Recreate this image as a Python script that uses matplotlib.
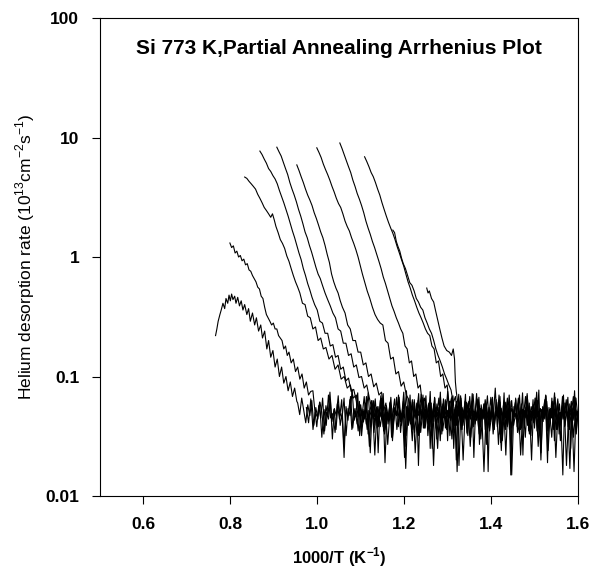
"""
Si 773 K partial annealing Arrhenius plot (helium desorption rate vs 1000/T).
"""

import numpy as np
import matplotlib
matplotlib.use('Agg')
import matplotlib.pyplot as plt

plt.rcParams.update({
    'font.family':       'Liberation Sans',
    'mathtext.fontset':  'custom',
    'mathtext.rm':       'Liberation Sans',
    'mathtext.bf':       'Liberation Sans:bold',
})

# descending parts as (1000/T, rate)
curve_a = [(0.766, 0.22), (0.769, 0.25), (0.772, 0.29), (0.776, 0.33), (0.779, 0.36),
           (0.783, 0.41), (0.787, 0.37), (0.790, 0.45), (0.794, 0.41), (0.797, 0.48),
           (0.800, 0.43), (0.803, 0.49), (0.806, 0.44), (0.810, 0.47), (0.813, 0.41),
           (0.817, 0.46), (0.821, 0.39), (0.825, 0.43), (0.829, 0.36), (0.833, 0.40),
           (0.838, 0.33), (0.842, 0.37), (0.846, 0.29), (0.851, 0.34), (0.856, 0.27),
           (0.860, 0.31), (0.865, 0.24), (0.870, 0.27), (0.874, 0.21), (0.879, 0.24),
           (0.884, 0.17), (0.888, 0.20), (0.893, 0.145), (0.898, 0.165), (0.903, 0.12),
           (0.908, 0.14), (0.913, 0.10), (0.918, 0.12), (0.923, 0.088), (0.928, 0.10),
           (0.933, 0.076), (0.938, 0.09), (0.943, 0.068), (0.948, 0.08), (0.953, 0.062)]

curve_b = [(0.799, 1.31), (0.803, 1.20), (0.807, 1.24), (0.811, 1.08), (0.815, 1.12),
           (0.819, 1.00), (0.823, 1.03), (0.827, 0.93), (0.831, 0.96), (0.835, 0.86),
           (0.839, 0.88), (0.843, 0.78), (0.847, 0.76), (0.851, 0.70), (0.855, 0.66),
           (0.859, 0.62), (0.863, 0.56), (0.867, 0.54), (0.871, 0.47), (0.875, 0.45),
           (0.879, 0.38), (0.883, 0.33), (0.887, 0.31), (0.891, 0.29), (0.895, 0.27),
           (0.899, 0.28), (0.903, 0.25), (0.907, 0.25), (0.911, 0.22), (0.915, 0.21),
           (0.919, 0.20), (0.923, 0.17), (0.927, 0.18), (0.931, 0.15), (0.935, 0.16),
           (0.940, 0.13), (0.945, 0.14), (0.950, 0.11), (0.955, 0.12), (0.960, 0.095),
           (0.965, 0.105), (0.970, 0.08), (0.975, 0.09), (0.980, 0.07), (0.985, 0.075)]

curve_c = [(0.833, 4.67), (0.838, 4.55), (0.843, 4.30), (0.848, 4.10), (0.853, 3.90),
           (0.858, 3.70), (0.863, 3.35), (0.868, 3.10), (0.873, 2.85), (0.878, 2.60),
           (0.883, 2.45), (0.888, 2.30), (0.893, 2.15), (0.897, 2.30), (0.901, 2.05),
           (0.905, 1.80), (0.910, 1.60), (0.915, 1.40), (0.920, 1.30), (0.925, 1.18),
           (0.930, 1.02), (0.935, 0.92), (0.940, 0.80), (0.945, 0.70), (0.950, 0.62),
           (0.955, 0.56), (0.960, 0.50), (0.966, 0.41), (0.972, 0.40), (0.978, 0.32),
           (0.984, 0.31), (0.990, 0.25), (0.996, 0.26), (1.002, 0.20), (1.008, 0.21),
           (1.014, 0.17), (1.020, 0.175), (1.027, 0.14), (1.034, 0.15), (1.041, 0.115),
           (1.048, 0.125), (1.055, 0.095), (1.062, 0.10), (1.069, 0.08), (1.076, 0.085),
           (1.083, 0.066), (1.090, 0.07), (1.095, 0.05), (1.100, 0.058), (1.105, 0.041),
           (1.110, 0.052), (1.115, 0.036), (1.120, 0.047)]

curve_d = [(0.868, 7.7), (0.873, 7.2), (0.878, 6.6), (0.883, 6.1), (0.888, 5.5),
           (0.893, 5.2), (0.898, 4.8), (0.903, 4.5), (0.908, 4.1), (0.913, 3.6),
           (0.918, 3.2), (0.923, 2.85), (0.928, 2.5), (0.933, 2.2), (0.938, 1.9),
           (0.943, 1.65), (0.948, 1.45), (0.953, 1.25), (0.958, 1.08), (0.963, 0.95),
           (0.968, 0.80), (0.973, 0.70), (0.978, 0.60), (0.983, 0.53), (0.988, 0.46),
           (0.994, 0.40), (1.000, 0.36), (1.006, 0.29), (1.012, 0.28), (1.018, 0.23),
           (1.024, 0.23), (1.030, 0.18), (1.036, 0.185), (1.042, 0.145), (1.048, 0.15),
           (1.054, 0.115), (1.060, 0.12), (1.066, 0.092), (1.072, 0.097), (1.078, 0.075),
           (1.084, 0.078)]

curve_e = [(0.907, 8.3), (0.912, 7.6), (0.917, 7.0), (0.922, 6.2), (0.927, 5.5),
           (0.932, 4.9), (0.937, 4.2), (0.942, 3.7), (0.947, 3.3), (0.952, 2.9),
           (0.957, 2.5), (0.962, 2.2), (0.967, 1.9), (0.972, 1.62), (0.977, 1.45),
           (0.982, 1.25), (0.987, 1.10), (0.992, 0.95), (0.997, 0.82), (1.002, 0.72),
           (1.007, 0.66), (1.012, 0.58), (1.018, 0.50), (1.024, 0.44), (1.030, 0.39),
           (1.036, 0.34), (1.042, 0.31), (1.048, 0.25), (1.054, 0.24), (1.060, 0.19),
           (1.066, 0.19), (1.072, 0.15), (1.078, 0.155), (1.084, 0.12), (1.090, 0.125),
           (1.096, 0.098), (1.102, 0.10), (1.108, 0.08), (1.114, 0.085), (1.120, 0.066),
           (1.125, 0.055), (1.130, 0.062), (1.135, 0.043), (1.140, 0.056), (1.145, 0.038),
           (1.150, 0.05), (1.155, 0.033), (1.160, 0.046)]

curve_f = [(0.953, 5.9), (0.958, 5.3), (0.963, 4.7), (0.968, 4.2), (0.973, 3.7),
           (0.978, 3.3), (0.983, 3.0), (0.988, 2.7), (0.993, 2.35), (0.998, 2.1),
           (1.003, 1.85), (1.008, 1.62), (1.013, 1.45), (1.018, 1.25), (1.023, 1.05),
           (1.028, 0.90), (1.033, 0.72), (1.038, 0.62), (1.043, 0.55), (1.048, 0.50),
           (1.053, 0.43), (1.058, 0.38), (1.064, 0.34), (1.070, 0.27), (1.076, 0.25),
           (1.082, 0.20), (1.088, 0.20), (1.094, 0.16), (1.100, 0.16), (1.106, 0.125),
           (1.112, 0.13), (1.118, 0.10), (1.124, 0.105), (1.130, 0.082), (1.136, 0.088),
           (1.142, 0.07), (1.148, 0.074), (1.153, 0.052), (1.158, 0.06), (1.163, 0.04),
           (1.168, 0.055), (1.173, 0.036), (1.178, 0.049)]

curve_g = [(0.999, 8.2), (1.004, 7.5), (1.009, 6.8), (1.014, 6.0), (1.019, 5.4),
           (1.024, 4.9), (1.029, 4.4), (1.034, 3.9), (1.039, 3.5), (1.044, 3.1),
           (1.049, 2.8), (1.054, 2.6), (1.059, 2.3), (1.064, 2.0), (1.069, 1.8),
           (1.074, 1.65), (1.079, 1.45), (1.084, 1.3), (1.089, 1.15), (1.094, 1.0),
           (1.099, 0.85), (1.104, 0.72), (1.109, 0.62), (1.115, 0.52), (1.121, 0.45),
           (1.127, 0.38), (1.133, 0.33), (1.139, 0.30), (1.145, 0.28), (1.151, 0.27),
           (1.157, 0.20), (1.163, 0.19), (1.169, 0.14), (1.175, 0.145), (1.181, 0.105),
           (1.187, 0.11), (1.193, 0.083), (1.199, 0.09), (1.205, 0.07)]

curve_h = [(1.052, 9.0), (1.057, 8.1), (1.062, 7.2), (1.067, 6.4), (1.072, 5.7),
           (1.077, 5.1), (1.082, 4.4), (1.087, 3.9), (1.092, 3.4), (1.097, 3.05),
           (1.102, 2.7), (1.107, 2.35), (1.112, 2.0), (1.117, 1.75), (1.122, 1.55),
           (1.127, 1.35), (1.132, 1.2), (1.137, 1.05), (1.142, 0.92), (1.147, 0.80),
           (1.152, 0.68), (1.157, 0.60), (1.162, 0.52), (1.167, 0.45), (1.172, 0.39),
           (1.177, 0.35), (1.182, 0.31), (1.187, 0.28), (1.192, 0.25), (1.197, 0.23),
           (1.202, 0.18), (1.207, 0.17), (1.212, 0.13), (1.217, 0.135), (1.222, 0.10),
           (1.227, 0.105), (1.232, 0.08), (1.237, 0.085), (1.242, 0.058), (1.247, 0.066),
           (1.252, 0.045), (1.257, 0.058), (1.262, 0.038), (1.267, 0.052)]

curve_i = [(1.109, 6.9), (1.114, 6.3), (1.119, 5.7), (1.124, 5.1), (1.129, 4.7),
           (1.134, 4.2), (1.139, 3.7), (1.144, 3.3), (1.149, 2.85), (1.154, 2.5),
           (1.159, 2.2), (1.164, 1.95), (1.169, 1.75), (1.174, 1.58), (1.179, 1.40),
           (1.184, 1.22), (1.189, 1.08), (1.194, 0.95), (1.199, 0.84), (1.204, 0.72),
           (1.209, 0.62), (1.214, 0.55), (1.219, 0.48), (1.224, 0.43), (1.229, 0.38),
           (1.234, 0.34), (1.239, 0.31), (1.244, 0.28), (1.249, 0.25), (1.254, 0.23),
           (1.259, 0.22), (1.264, 0.18), (1.269, 0.17), (1.274, 0.13), (1.279, 0.135),
           (1.284, 0.10), (1.289, 0.105), (1.294, 0.08), (1.299, 0.085), (1.304, 0.056),
           (1.309, 0.066), (1.314, 0.044), (1.319, 0.058), (1.324, 0.039), (1.329, 0.05)]

curve_j = [(1.174, 1.68), (1.178, 1.60), (1.182, 1.35), (1.186, 1.22), (1.190, 1.12),
           (1.194, 0.98), (1.198, 0.88), (1.203, 0.80), (1.208, 0.70), (1.213, 0.61),
           (1.218, 0.58), (1.223, 0.52), (1.228, 0.45), (1.233, 0.42), (1.238, 0.38),
           (1.243, 0.36), (1.248, 0.31), (1.253, 0.28), (1.258, 0.25), (1.263, 0.23),
           (1.268, 0.20), (1.273, 0.17), (1.278, 0.15), (1.283, 0.135), (1.288, 0.12),
           (1.293, 0.105), (1.298, 0.095), (1.303, 0.085), (1.308, 0.077), (1.313, 0.06),
           (1.318, 0.068), (1.323, 0.046), (1.328, 0.057), (1.333, 0.04), (1.338, 0.052)]

curve_k = [(1.252, 0.55), (1.255, 0.50), (1.258, 0.52), (1.263, 0.45), (1.268, 0.42),
           (1.272, 0.36), (1.277, 0.30), (1.282, 0.25), (1.287, 0.21), (1.292, 0.18),
           (1.298, 0.165), (1.304, 0.16), (1.309, 0.15), (1.313, 0.17), (1.316, 0.14),
           (1.317, 0.11), (1.318, 0.09), (1.320, 0.075), (1.325, 0.055), (1.330, 0.064),
           (1.335, 0.043), (1.340, 0.057), (1.345, 0.037), (1.350, 0.05)]

# background level (x 1e-3), evenly sampled out to 1000/T = 1.6
floor_1_start = 0.955
floor_1 = [60, 48, 66, 52, 41, 58, 47, 63, 39, 55, 44, 61, 50, 33, 57, 46, 74, 42, 53, 36,
           59, 49, 45, 66, 32, 54, 47, 78, 43, 51, 35, 56, 48, 68, 40, 52, 23, 58, 46, 55,
           38, 63, 49, 36, 57, 44, 62, 31, 52, 47, 70, 42, 50, 21, 56, 45, 61, 37, 53, 48,
           72, 34, 51, 44, 58, 38, 54, 47, 66, 30, 55, 43, 59, 46, 36, 57, 49, 69, 39, 52,
           18, 56, 45, 62, 34, 53, 47, 71, 40, 50, 33, 58, 44, 64, 48, 37, 55, 46, 80, 38,
           52, 24, 57, 45, 66, 36, 54, 48, 61, 41, 33, 56, 47, 68, 39, 51, 20, 58, 45, 63,
           37, 53, 48, 70, 40, 50, 31, 57, 46, 65, 35, 54, 44, 60, 47, 17, 55, 43, 66, 45]

floor_2_start = 0.99
floor_2 = [76, 52, 38, 57, 45, 66, 35, 50, 44, 62, 30, 54, 47, 69, 39, 49, 21, 56, 43, 64,
           36, 53, 46, 73, 32, 51, 42, 60, 48, 26, 55, 44, 65, 37, 52, 46, 58, 19, 50, 43,
           67, 38, 54, 47, 61, 34, 52, 45, 76, 39, 49, 29, 56, 44, 63, 36, 53, 47, 69, 32,
           50, 43, 59, 46, 25, 54, 42, 65, 37, 52, 45, 60, 34, 55, 16, 48, 66, 39, 53, 46,
           62, 31, 51, 44, 72, 38, 54, 47, 59, 27, 50, 43, 65, 36, 55, 45, 68, 33, 52, 22,
           57, 44, 63, 39, 49, 46, 70, 37, 53, 31, 60, 43, 56, 47, 66, 35, 51, 20, 55, 44,
           62, 40, 53, 48, 73, 36, 50, 29, 57, 45, 64, 38, 54, 46, 16, 52, 44]

floor_3_start = 1.09
floor_3 = [62, 46, 58, 37, 53, 44, 68, 33, 51, 47, 63, 39, 55, 23, 52, 45, 72, 36, 50, 43,
           60, 31, 54, 48, 67, 38, 52, 46, 62, 26, 55, 43, 70, 35, 51, 45, 60, 18, 53, 47,
           65, 37, 50, 44, 75, 32, 54, 42, 59, 48, 29, 56, 45, 64, 36, 52, 46, 68, 25, 51,
           43, 61, 39, 55, 47, 71, 33, 50, 44, 62, 21, 53, 46, 67, 38, 52, 45, 59, 31, 55,
           42, 65, 36, 51, 47, 70, 28, 49, 44, 61, 39, 54, 15, 53, 46, 64, 34, 51, 44, 73,
           37, 55, 43, 60, 32, 52, 47, 66, 38, 50, 23, 56, 45, 69, 35, 53, 46, 62, 29, 51,
           44, 59, 39, 15, 54, 48, 67, 36, 52, 45, 76, 33, 50]

floor_4_start = 1.21
floor_4 = [65, 43, 55, 36, 64, 47, 52, 32, 58, 44, 70, 38, 51, 46, 60, 25, 54, 42, 67, 37,
           50, 45, 74, 33, 53, 48, 62, 29, 55, 43, 66, 39, 52, 20, 56, 46, 69, 36, 51, 44,
           61, 32, 54, 47, 72, 38, 50, 43, 64, 27, 53, 46, 59, 36, 55, 16, 52, 44, 67, 39,
           50, 47, 61, 33, 54, 43, 73, 36, 51, 45, 62, 26, 53, 46, 66, 38, 55, 44, 59, 22,
           52, 47, 69, 35, 50, 43, 64, 37, 54, 46, 77, 31, 51, 42, 61, 45, 19, 55, 43, 66,
           36, 52, 47, 62, 33, 50, 44, 70, 39, 53, 45, 59, 25, 54, 46, 67, 37, 51]

floor_5_start = 0.975
floor_5 = [55, 41, 65, 36, 50, 46, 61, 31, 53, 39, 70, 45, 49, 34, 59, 44, 64, 26, 52, 47,
           68, 37, 54, 40, 62, 32, 51, 46, 73, 38, 53, 22, 56, 43, 66, 35, 50, 45, 61, 29,
           55, 48, 67, 39, 52, 17, 57, 44, 64, 34, 51, 47, 71, 37, 53, 40, 61, 25, 55, 46,
           66, 36, 50, 44, 75, 32, 52, 39, 62, 47, 54, 20, 56, 43, 68, 37, 51, 46, 61, 30,
           53, 45, 69, 35, 50, 40, 64, 27, 55, 47, 60, 38, 52, 15, 56, 44, 66, 36, 53, 46,
           72, 33, 51, 41, 61, 26, 54, 47, 64, 37, 52, 45, 59, 21, 55, 40, 68, 38, 50, 46,
           62, 31, 53, 44]

floor_6_start = 1.12
floor_6 = [47, 63, 34, 52, 41, 69, 38, 55, 27, 51, 46, 65, 36, 54, 44, 74, 32, 50, 40, 61,
           23, 53, 47, 67, 37, 52, 45, 60, 18, 55, 41, 68, 35, 51, 46, 62, 30, 53, 39, 71,
           36, 50, 45, 60, 26, 54, 47, 65, 38, 52, 16, 56, 44, 67, 33, 51, 46, 61, 29, 55,
           40, 70, 37, 50, 47, 60, 22, 53, 45, 65, 35, 52, 41, 74, 32, 51, 46, 61, 24, 54,
           44, 67, 36, 50, 45, 60, 18, 53, 47, 68, 38, 51]

x_ticks = [0.6, 0.8, 1.0, 1.2, 1.4, 1.6]
y_ticks = [0.01, 0.1, 1, 10, 100]
y_tick_labels = ['0.01', '0.1', '1', '10', '100']


def with_floor(curve, start, values):
    xs = [p[0] for p in curve]
    ys = [p[1] for p in curve]
    fx = np.linspace(start, 1.6, len(values))
    fy = np.array(values) / 1000.0
    return np.r_[xs, fx], np.r_[ys, fy]


def pts(curve):
    return [p[0] for p in curve], [p[1] for p in curve]


fig = plt.figure(figsize=(5.93, 5.69), dpi=100)
ax = fig.add_axes([0.1686, 0.1283, 0.806, 0.840])

lw = 0.8
for curve, start, vals in [(curve_a, floor_1_start, floor_1),
                           (curve_b, floor_2_start, floor_2),
                           (curve_d, floor_3_start, floor_3),
                           (curve_g, floor_4_start, floor_4)]:
    x, y = with_floor(curve, start, vals)
    ax.plot(x, y, color='black', lw=lw)

for start, vals in [(floor_5_start, floor_5), (floor_6_start, floor_6)]:
    ax.plot(np.linspace(start, 1.6, len(vals)), np.array(vals) / 1000.0,
            color='black', lw=lw)

for curve in [curve_c, curve_e, curve_f, curve_h, curve_i, curve_j, curve_k]:
    x, y = pts(curve)
    ax.plot(x, y, color='black', lw=lw)

ax.set_yscale('log')
ax.set_xlim(0.5, 1.6)
ax.set_ylim(0.01, 100)
ax.set_xticks(x_ticks)
ax.set_xticklabels([f'{v:.1f}' for v in x_ticks])
ax.set_yticks(y_ticks)
ax.set_yticklabels(y_tick_labels)
ax.minorticks_off()

ax.tick_params(direction='out', length=6, width=0.8, labelsize=12.5)
ax.tick_params(axis='x', pad=9)
ax.tick_params(axis='y', pad=9)
for lab in ax.get_xticklabels() + ax.get_yticklabels():
    lab.set_fontweight('bold')
for s in ax.spines.values():
    s.set_linewidth(0.8)

ax.set_xlabel(r'1000/T (K$^{\mathbf{-1}}$)', fontsize=12, fontweight='bold', labelpad=10)
ax.set_ylabel(r'Helium desorption rate (10$^{\mathrm{13}}$cm$^{\mathrm{-2}}$s$^{\mathrm{-1}}$)',
              fontsize=12.5, labelpad=6)

ax.text(0.5, 0.937, 'Si 773 K,Partial Annealing Arrhenius Plot',
        transform=ax.transAxes, ha='center', va='center',
        fontsize=15, fontweight='bold')

fig.savefig('out.png', dpi=100, facecolor='white')
